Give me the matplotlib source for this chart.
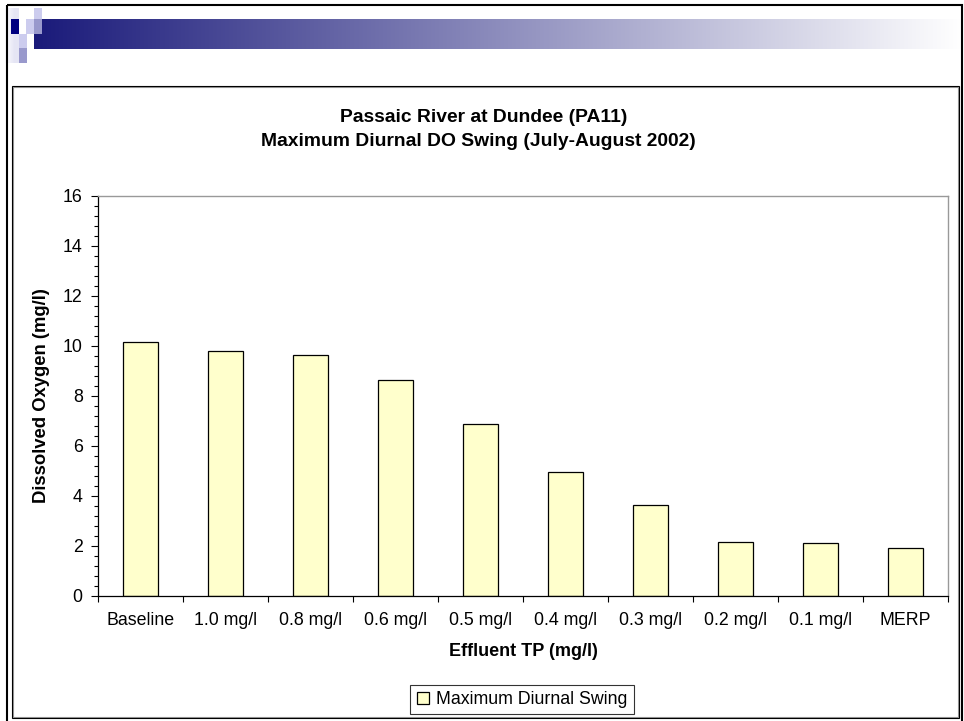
#!/usr/bin/env python3

import numpy as np
import matplotlib
matplotlib.use("Agg")
from matplotlib import pyplot as plt
from matplotlib.patches import Rectangle
from matplotlib.ticker import MultipleLocator, FixedLocator, NullFormatter


categories = ["Baseline", "1.0 mg/l", "0.8 mg/l", "0.6 mg/l", "0.5 mg/l",
              "0.4 mg/l", "0.3 mg/l", "0.2 mg/l", "0.1 mg/l", "MERP"]
max_swing = [10.16, 9.79, 9.66, 8.64, 6.87, 4.98, 3.63, 2.15, 2.11, 1.93]

title_1 = "Passaic River at Dundee (PA11)"
title_2 = "Maximum Diurnal DO Swing (July-August 2002)"
x_label = "Effluent TP (mg/l)"
y_label = "Dissolved Oxygen (mg/l)"
series_name = "Maximum Diurnal Swing"

plt.rcParams["font.family"] = ["Liberation Sans", "DejaVu Sans"]
fs = 12.8

W, H = 964, 721
fig = plt.figure(figsize=(W / 100, H / 100), dpi=100)

# slide-like decoration, in pixel coordinates
bg = fig.add_axes([0, 0, 1, 1])
bg.axis("off")
navy = np.array([26, 26, 122]) / 255
t = np.linspace(0, 1, 400)[:, None]
grad = (navy * (1 - t) + t)[None, :, :]
bg.imshow(grad, extent=(34, 962, 49, 19), aspect="auto", interpolation="bilinear")
bg.imshow(np.array([[[1, 1, 1], [0.9, 0.9, 0.96]]]), extent=(0, 19, 63, 8), aspect="auto",
          interpolation="bilinear")
squares = [
    (11, 19, 8, 15, "#000080"),
    (26, 19, 8, 15, "#ccccee"),
    (34, 8, 8, 11, "#ccccee"),
    (34, 19, 8, 15, "#9999cc"),
    (19, 34, 8, 14, "#ccccee"),
    (19, 48, 8, 15, "#9999cc"),
]
for sx, sy, sw, sh, c in squares:
    bg.add_patch(Rectangle((sx, sy), sw, sh, color=c, lw=0))
bg.add_patch(Rectangle((7, 5), 955, 730, fill=False, ec="black", lw=1.5))
bg.add_patch(Rectangle((12.5, 87), 945, 630, fill=False, ec="#999999", lw=0.8))
bg.add_patch(Rectangle((11.5, 86), 947, 632, fill=False, ec="black", lw=0.8))
bg.set_xlim(0, W)
bg.set_ylim(H, 0)

# chart
ax = fig.add_axes([98 / W, 125 / H, 850 / W, 400 / H])
x = np.arange(len(categories))
ax.bar(x, max_swing, width=0.41, color="#FFFFCC", edgecolor="black", lw=0.9,
       label=series_name, zorder=2)
ax.set_xlim(-0.5, len(categories) - 0.5)
ax.set_ylim(0, 16)

ax.yaxis.set_major_locator(MultipleLocator(2))
ax.yaxis.set_minor_locator(MultipleLocator(0.4))
ax.tick_params(axis="y", which="major", length=5, width=0.8, pad=6, labelsize=fs, colors="black")
ax.tick_params(axis="y", which="minor", length=3, width=0.8)

ax.set_xticks(x)
ax.set_xticklabels(categories)
ax.xaxis.set_minor_locator(FixedLocator(np.arange(-0.5, len(categories), 1.0)))
ax.xaxis.set_minor_formatter(NullFormatter())
ax.tick_params(axis="x", which="major", length=0, pad=11.5, labelsize=fs)
ax.tick_params(axis="x", which="minor", length=4.3, width=0.8)

for s in ["left", "bottom"]:
    ax.spines[s].set_color("black")
    ax.spines[s].set_linewidth(0.9)
for s in ["top", "right"]:
    ax.spines[s].set_color("#999999")
    ax.spines[s].set_linewidth(1.0)

ax.set_ylabel(y_label, fontsize=13.3, fontweight="bold", va="center")
ax.yaxis.set_label_coords((41.5 - 98) / 850, 0.5)
ax.set_xlabel(x_label, fontsize=13, fontweight="bold", va="center")
ax.xaxis.set_label_coords(0.5, (596 - 652) / 400)

fig.text(483.5 / W, 1 - 117 / H, title_1, ha="center", va="center", fontsize=13.9,
         fontweight="bold")
fig.text(478 / W, 1 - 142 / H, title_2, ha="center", va="center", fontsize=13.9,
         fontweight="bold")

leg = ax.legend(loc="center", bbox_to_anchor=(522 / W, 1 - 699.5 / H),
                bbox_transform=fig.transFigure, fontsize=fs, fancybox=False,
                handlelength=0.7, handleheight=0.7, handletextpad=0.4,
                borderpad=0.35, borderaxespad=0)
leg.get_frame().set_edgecolor("black")
leg.get_frame().set_linewidth(0.8)

fig.savefig("out.png", dpi=100)
